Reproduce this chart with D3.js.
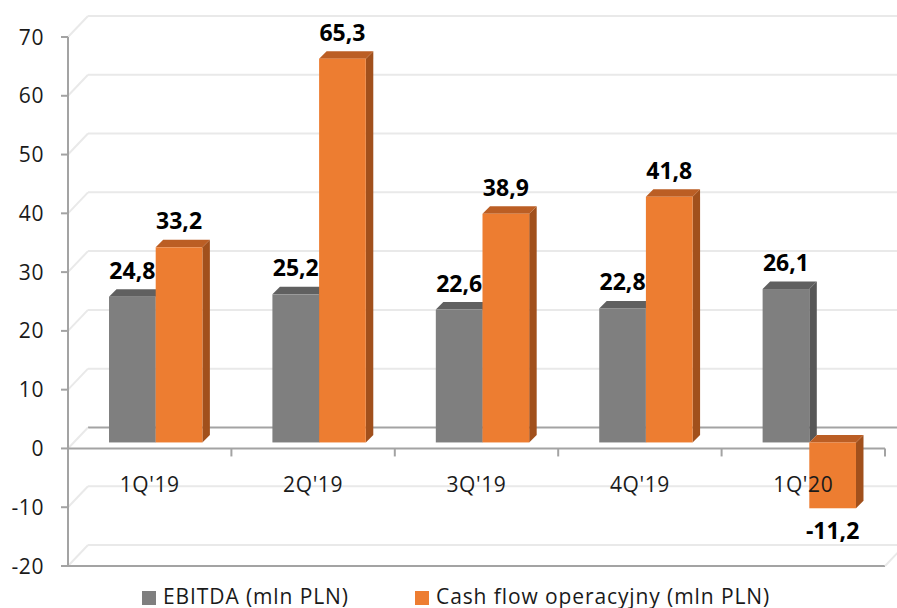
<!DOCTYPE html>
<html>
<head>
<meta charset="utf-8">
<script src="https://cdn.jsdelivr.net/npm/d3@7"></script>
<style>
  body { margin: 0; background: #fff; }
  text { font-family: "Open Sans", sans-serif; }
</style>
</head>
<body>
<script>
// data
var categories = ["1Q'19", "2Q'19", "3Q'19", "4Q'19", "1Q'20"];
var seriesNames = ["EBITDA (mln PLN)", "Cash flow operacyjny (mln PLN)"];
var ebitda = [24.8, 25.2, 22.6, 22.8, 26.1];
var cashFlow = [33.2, 65.3, 38.9, 41.8, -11.2];
var yTicks = [-20, -10, 0, 10, 20, 30, 40, 50, 60, 70];

var width = 897, height = 608;

// 3d look: back wall offset and where the bars sit in the depth
var depthX = 20, depthY = -21;
var barOffX = 6, barOffY = -6;
var barDepth = 7.5;

var gridColor = "#e9e9e9";
var axisColor = "#a3a3a3";
var faces = [
    {front: "#7f7f7f", top: "#606060", side: "#575757"},
    {front: "#ed7d31", top: "#bb5e24", side: "#a1501c"}
];

var svg = d3.select("body").append("svg")
    .attr("width", width)
    .attr("height", height);

var y = d3.scaleLinear().domain([-20, 70]).range([566, 37]);
var x0 = d3.scaleBand().domain(categories).range([68, 885]);
var x1 = d3.scaleBand().domain([0, 1]).range([0, x0.bandwidth()]).paddingOuter(0.75);

// back wall gridlines + left wall diagonals
var grid = svg.append("g");
yTicks.forEach(function(t) {
    var isZero = t === 0;
    grid.append("line")
        .attr("x1", 68 + depthX).attr("x2", 885 + depthX)
        .attr("y1", y(t) + depthY).attr("y2", y(t) + depthY)
        .attr("stroke", isZero ? axisColor : gridColor)
        .attr("stroke-width", 2);
    grid.append("line")
        .attr("x1", 68).attr("x2", 68 + depthX)
        .attr("y1", y(t)).attr("y2", y(t) + depthY)
        .attr("stroke", gridColor)
        .attr("stroke-width", 2);
});

// front floor line at -20 and the right diagonal
svg.append("line")
    .attr("x1", 68).attr("x2", 885)
    .attr("y1", y(-20)).attr("y2", y(-20))
    .attr("stroke", axisColor).attr("stroke-width", 2);
svg.append("line")
    .attr("x1", 885).attr("x2", 885 + depthX)
    .attr("y1", y(-20)).attr("y2", y(-20) + depthY)
    .attr("stroke", gridColor).attr("stroke-width", 2);

// vertical axis
var yAxis = svg.append("g");
yAxis.append("line")
    .attr("x1", 68).attr("x2", 68)
    .attr("y1", y(70)).attr("y2", y(-20))
    .attr("stroke", axisColor).attr("stroke-width", 2);
yTicks.forEach(function(t) {
    yAxis.append("line")
        .attr("x1", 61).attr("x2", 68)
        .attr("y1", y(t)).attr("y2", y(t))
        .attr("stroke", axisColor).attr("stroke-width", 2);
    yAxis.append("text")
        .attr("x", 44)
        .attr("y", y(t))
        .attr("dy", "0.36em")
        .attr("text-anchor", "end")
        .attr("font-size", 21)
        .attr("letter-spacing", 0.6)
        .attr("fill", "#1a1a1a")
        .text(t);
});

// category axis at zero
svg.append("line")
    .attr("x1", 68).attr("x2", 885)
    .attr("y1", y(0)).attr("y2", y(0))
    .attr("stroke", axisColor).attr("stroke-width", 2);
categories.concat([null]).forEach(function(c, i) {
    var xx = c === null ? 885 : x0(c);
    if (i === 0) return;
    svg.append("line")
        .attr("x1", xx).attr("x2", xx)
        .attr("y1", y(0)).attr("y2", y(0) + 8)
        .attr("stroke", axisColor).attr("stroke-width", 2);
});

// one 3d column: front, top, side
function drawBar(g, cat, s, v) {
    var c = faces[s];
    var bx = x0(cat) + x1(s) + barOffX;
    var bw = x1.bandwidth();
    var yTop = Math.min(y(v), y(0)) + barOffY;
    var yBot = Math.max(y(v), y(0)) + barOffY;
    var pts = function(a) { return a.map(function(p) { return p.join(","); }).join(" "); };
    g.append("polygon")
        .attr("points", pts([[bx + bw, yTop], [bx + bw + barDepth, yTop - barDepth],
            [bx + bw + barDepth, yBot - barDepth], [bx + bw, yBot]]))
        .attr("fill", c.side);
    g.append("polygon")
        .attr("points", pts([[bx, yTop], [bx + barDepth, yTop - barDepth],
            [bx + bw + barDepth, yTop - barDepth], [bx + bw, yTop]]))
        .attr("fill", c.top);
    g.append("rect")
        .attr("x", bx).attr("y", yTop)
        .attr("width", bw).attr("height", yBot - yTop)
        .attr("fill", c.front);
}

var bars = svg.append("g");
[ebitda, cashFlow].forEach(function(vals, s) {
    vals.forEach(function(v, i) { drawBar(bars, categories[i], s, v); });
});

// category labels
svg.append("g").selectAll("text")
    .data(categories)
    .enter().append("text")
    .attr("x", function(d) { return x0(d) + x0.bandwidth() / 2; })
    .attr("y", 492)
    .attr("text-anchor", "middle")
    .attr("font-size", 21)
    .attr("letter-spacing", 0.6)
    .attr("fill", "#1a1a1a")
    .text(function(d) { return d; });

// value labels (polish decimal comma, plain hyphen for minus)
var fmt = function(v) { return d3.format(".1f")(v).replace(".", ",").replace("\u2212", "-"); };
[ebitda, cashFlow].forEach(function(vals, s) {
    svg.append("g").selectAll("text")
        .data(vals)
        .enter().append("text")
        .attr("x", function(d, i) { return x0(categories[i]) + x1(s) + x1.bandwidth() / 2 + barOffX; })
        .attr("y", function(d) { return d >= 0 ? y(d) + barOffY - 18 : y(d) + barOffY + 31; })
        .attr("text-anchor", "middle")
        .attr("font-size", 23)
        .attr("font-weight", "bold")
        .attr("fill", "#000")
        .text(fmt);
});

// legend
var legendX = [142, 415];
var legend = svg.append("g");
seriesNames.forEach(function(name, s) {
    legend.append("rect")
        .attr("x", legendX[s]).attr("y", 591)
        .attr("width", 14).attr("height", 14)
        .attr("fill", faces[s].front);
    legend.append("text")
        .attr("x", legendX[s] + 21)
        .attr("y", 604)
        .attr("font-size", 21)
        .attr("letter-spacing", 0.9)
        .attr("fill", "#1a1a1a")
        .text(name);
});
</script>
</body>
</html>
